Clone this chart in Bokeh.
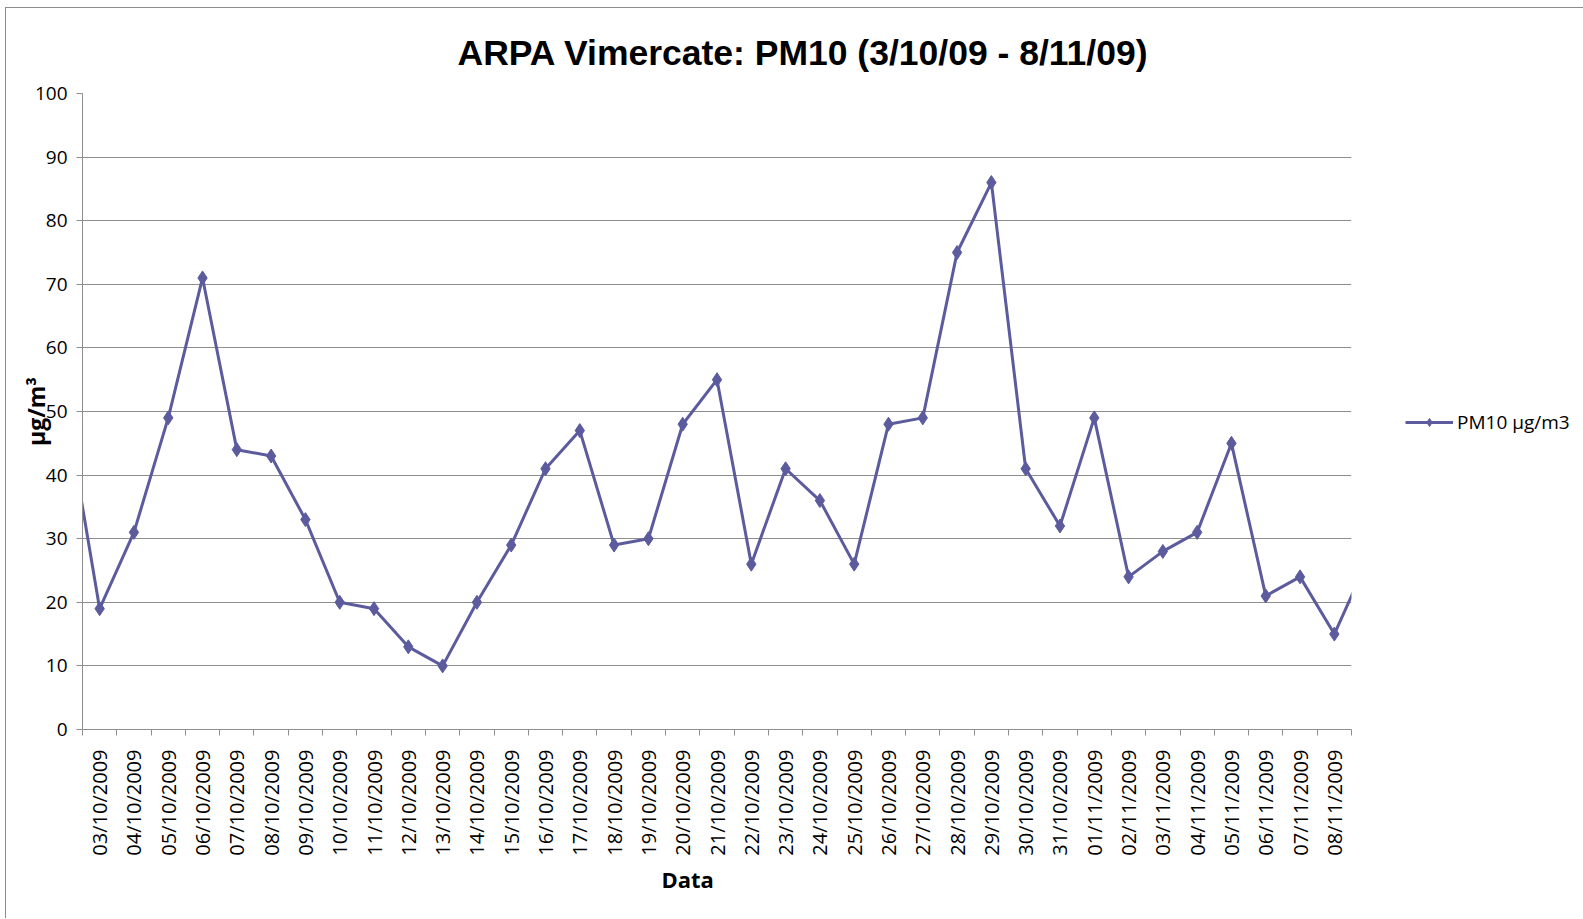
import math
from bokeh.plotting import figure
from bokeh.models import (FixedTicker, Legend, LegendItem, Range1d, Title)
from bokeh.embed import file_html
from bokeh.resources import INLINE

# ---- data ----
dates = ["03/10/2009", "04/10/2009", "05/10/2009", "06/10/2009", "07/10/2009",
         "08/10/2009", "09/10/2009", "10/10/2009", "11/10/2009", "12/10/2009",
         "13/10/2009", "14/10/2009", "15/10/2009", "16/10/2009", "17/10/2009",
         "18/10/2009", "19/10/2009", "20/10/2009", "21/10/2009", "22/10/2009",
         "23/10/2009", "24/10/2009", "25/10/2009", "26/10/2009", "27/10/2009",
         "28/10/2009", "29/10/2009", "30/10/2009", "31/10/2009", "01/11/2009",
         "02/11/2009", "03/11/2009", "04/11/2009", "05/11/2009", "06/11/2009",
         "07/11/2009", "08/11/2009"]
pm10 = [19, 31, 49, 71, 44, 43, 33, 20, 19, 13, 10, 20, 29, 41, 47, 29, 30,
        48, 55, 26, 41, 36, 26, 48, 49, 75, 86, 41, 32, 49, 24, 28, 31, 45,
        21, 24, 15]
# values just outside the shown range (line is clipped at the plot edges)
value_before = 51   # 02/10/2009
value_after = 27    # 09/11/2009
y_ticks = [0, 10, 20, 30, 40, 50, 60, 70, 80, 90, 100]
series_name = "PM10 µg/m3"
title_text = "ARPA Vimercate: PM10 (3/10/09 - 8/11/09)"
x_title = "Data"
y_title = "μg/m³"

COLOR = "#5B5B9E"
GRID = "#8E8E8E"
FONT = "Open Sans"

n = len(dates)
xs = list(range(n))
line_x = [-1] + xs + [n]
line_y = [value_before] + pm10 + [value_after]

p = figure(frame_width=1269, frame_height=636, output_backend="svg",
           toolbar_location=None,
           x_range=Range1d(-0.5, n - 0.5), y_range=Range1d(0, 100),
           min_border_left=76, min_border_right=230, min_border_top=85,
           min_border_bottom=189)
p.outline_line_color = None
p.background_fill_color = "white"
p.border_fill_color = "white"
p.styles = {"margin-left": "5px", "margin-top": "7px",
            "border-left": "1px solid #8c8c8c", "border-top": "1px solid #8c8c8c"}

# title
p.title.text = title_text
p.title.align = "left"
p.title.offset = 375
p.title.text_font = "Liberation Sans"
p.title.text_font_style = "bold"
p.title.text_font_size = "35.5px"
p.title.text_color = "black"
p.title.standoff = 42

# y axis
p.yaxis.ticker = FixedTicker(ticks=y_ticks)
p.yaxis.axis_line_color = GRID
p.yaxis.major_tick_line_color = GRID
p.yaxis.major_tick_out = 6
p.yaxis.major_tick_in = 0
p.yaxis.minor_tick_line_color = None
p.yaxis.major_label_text_font = FONT
p.yaxis.major_label_text_font_size = "19px"
p.yaxis.major_label_text_color = "black"
p.yaxis.major_label_standoff = 9
p.yaxis.axis_label = y_title
p.yaxis.axis_label_text_font = FONT
p.yaxis.axis_label_text_font_style = "bold"
p.yaxis.axis_label_text_font_size = "23px"
p.yaxis.axis_label_text_color = "black"
p.yaxis.axis_label_standoff = -20
p.ygrid.grid_line_color = GRID
p.ygrid.grid_line_width = 1

# x axis
p.xaxis.ticker = FixedTicker(ticks=xs, minor_ticks=[i - 0.5 for i in range(n + 1)])
p.xaxis.major_label_overrides = {i: d for i, d in enumerate(dates)}
p.xaxis.major_label_orientation = math.pi / 2
p.xaxis.axis_line_color = GRID
p.xaxis.major_tick_line_color = None
p.xaxis.major_tick_out = 0
p.xaxis.major_tick_in = 0
p.xaxis.minor_tick_line_color = GRID
p.xaxis.minor_tick_out = 6
p.xaxis.minor_tick_in = 0
p.xaxis.major_label_text_font = FONT
p.xaxis.major_label_text_font_size = "20px"
p.xaxis.major_label_text_color = "black"
p.xaxis.major_label_standoff = 14
p.xgrid.grid_line_color = None

p.add_layout(Title(text=x_title, align="left", offset=579, text_font=FONT,
                   text_font_style="bold", text_font_size="22px",
                   text_color="black", standoff=6), "below")

# series
lr = p.line(line_x, line_y, line_color=COLOR, line_width=3)
sr = p.scatter(xs, pm10, marker="diamond", size=14, fill_color=COLOR,
               line_color=COLOR)

legend = Legend(items=[LegendItem(label=series_name, renderers=[lr, sr])],
                location=(54, 294), border_line_color=None,
                background_fill_alpha=0, padding=0, margin=0,
                glyph_width=48, glyph_height=20, label_standoff=4,
                label_text_font=FONT, label_text_font_size="19px",
                label_text_color="black")
p.add_layout(legend, "right")

open("out.html", "w").write(file_html(p, INLINE))
